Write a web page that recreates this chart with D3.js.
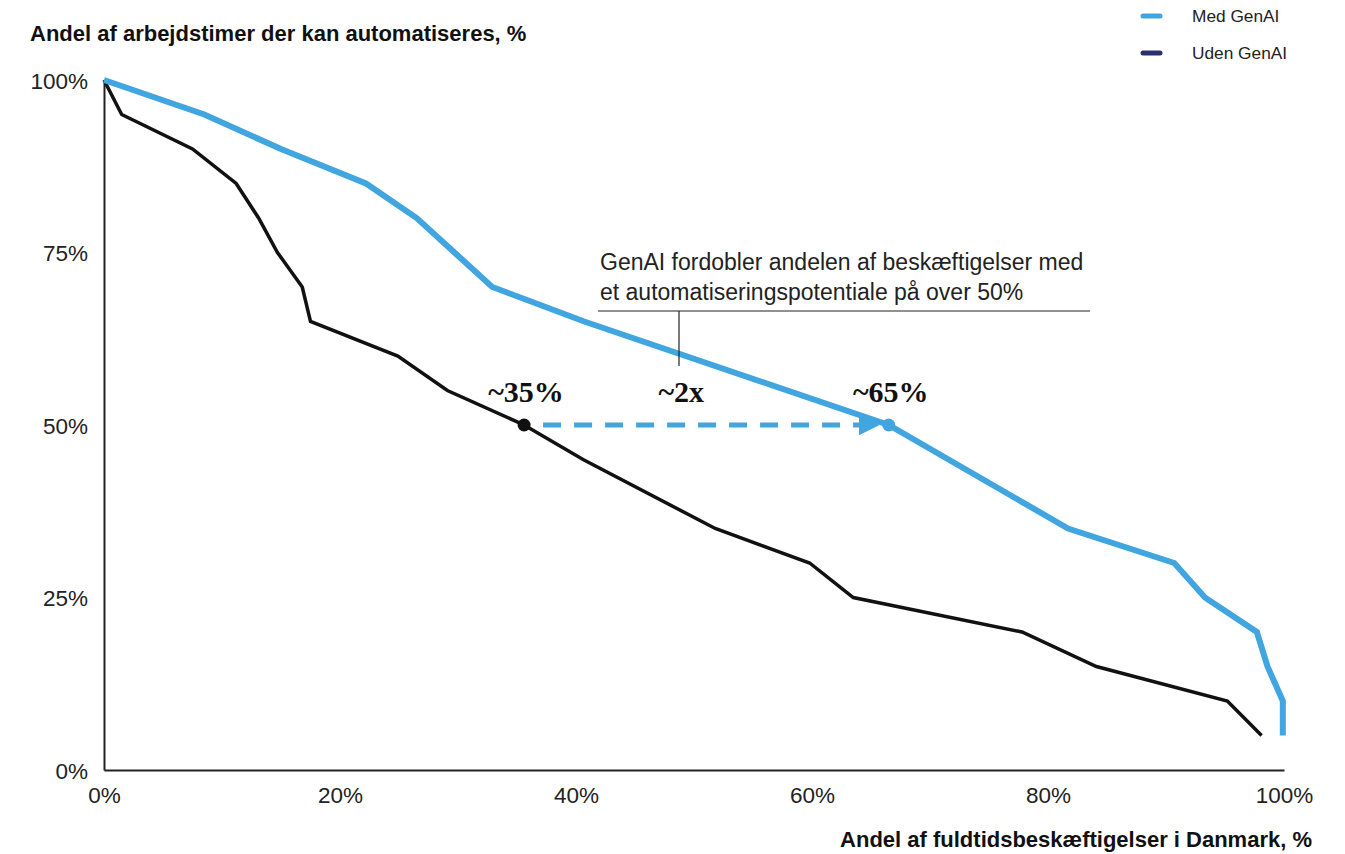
<!DOCTYPE html>
<html lang="da">
<head>
<meta charset="utf-8">
<script src="https://cdn.jsdelivr.net/npm/d3@7"></script>
<style>
  html, body { margin: 0; padding: 0; background: #fff; }
  svg { display: block; }
  .tick text { font-family: "Liberation Sans", Arial, sans-serif; font-size: 22.5px; fill: #222; }
</style>
</head>
<body>
<svg id="chart" width="1345" height="854"></svg>
<script>
// Share of full-time jobs (x, %) against share of work hours that can be automated (y, %)
const medGenAI = [
  [0, 100], [8.5, 95], [15, 90], [22.2, 85], [26.5, 80], [29.7, 75], [32.9, 70],
  [40.7, 65], [66.5, 50], [81.7, 35], [90.7, 30], [93.3, 25], [97.7, 20],
  [98.6, 15], [99.9, 10], [99.9, 5]
];
const udenGenAI = [
  [0, 100], [1.5, 95], [7.5, 90], [11.2, 85], [13.1, 80], [14.7, 75], [16.8, 70],
  [17.5, 65], [24.9, 60], [29.1, 55], [35.6, 50], [40.6, 45], [51.8, 35],
  [59.8, 30], [63.5, 25], [77.8, 20], [84.1, 15], [95.2, 10], [98.1, 5]
];
const xTicks = [0, 20, 40, 60, 80, 100];
const yTicks = [0, 25, 50, 75, 100];
const seriesNames = ["Med GenAI", "Uden GenAI"];
const highlight = { level: 50, from: 35.6, to: 66.5, labels: ["~35%", "~2x", "~65%"] };
const noteLines = ["GenAI fordobler andelen af beskæftigelser med", "et automatiseringspotentiale på over 50%"];

const BLUE = "#41a5df", BLACK = "#111111", NAVY = "#2c2e6f", AXIS = "#222";
const SANS = '"Liberation Sans", Arial, sans-serif';
const SERIF = '"Liberation Serif", "Times New Roman", serif';

const svg = d3.select("#chart");
const x = d3.scaleLinear().domain([0, 100]).range([104, 1284]);
const y = d3.scaleLinear().domain([0, 100]).range([770, 80]);
const pct = d => d + "%";

// Axes
const gx = svg.append("g").attr("transform", `translate(0,${y(0)})`)
  .call(d3.axisBottom(x).tickValues(xTicks).tickFormat(pct).tickSize(0).tickPadding(17));
const gy = svg.append("g").attr("transform", `translate(${x(0)},0)`)
  .call(d3.axisLeft(y).tickValues(yTicks).tickFormat(pct).tickSize(0).tickPadding(16));
[gx, gy].forEach(g => {
  g.select(".domain").attr("stroke", AXIS).attr("stroke-width", 2);
  g.selectAll(".tick text").attr("fill", "#222");
});
gy.selectAll(".tick text").attr("dy", "0.36em");

// Axis titles
svg.append("text").attr("x", 30).attr("y", 41)
  .attr("font-family", SANS).attr("font-weight", "bold").attr("font-size", 22).attr("fill", "#111")
  .text("Andel af arbejdstimer der kan automatiseres, %");
svg.append("text").attr("x", 1312).attr("y", 847).attr("text-anchor", "end")
  .attr("font-family", SANS).attr("font-weight", "bold").attr("font-size", 22).attr("fill", "#111")
  .text("Andel af fuldtidsbeskæftigelser i Danmark, %");

// Lines
const line = d3.line().x(d => x(d[0])).y(d => y(d[1]));
svg.append("path").datum(udenGenAI).attr("d", line)
  .attr("fill", "none").attr("stroke", BLACK).attr("stroke-width", 3.5).attr("stroke-linejoin", "miter");
svg.append("path").datum(medGenAI).attr("d", line)
  .attr("fill", "none").attr("stroke", BLUE).attr("stroke-width", 6).attr("stroke-linejoin", "miter");

// Dashed arrow between the two curves at the 50% level
const ay = y(highlight.level);
svg.append("defs").append("marker")
  .attr("id", "arrow").attr("viewBox", "0 0 10 10").attr("refX", 1).attr("refY", 5)
  .attr("markerWidth", 4.2).attr("markerHeight", 4.2).attr("markerUnits", "strokeWidth")
  .attr("orient", "auto")
  .append("path").attr("d", "M0,0 L10,5 L0,10 Z").attr("fill", BLUE);
svg.append("line")
  .attr("x1", x(highlight.from) + 19).attr("x2", x(highlight.to) - 28)
  .attr("y1", ay).attr("y2", ay)
  .attr("stroke", BLUE).attr("stroke-width", 5).attr("stroke-dasharray", "18 13")
  .attr("marker-end", "url(#arrow)");
svg.append("circle").attr("cx", x(highlight.from)).attr("cy", ay).attr("r", 6.5).attr("fill", BLACK);
svg.append("circle").attr("cx", x(highlight.to)).attr("cy", ay).attr("r", 6.5).attr("fill", BLUE);

// Value labels
const mid = (highlight.from + highlight.to) / 2 - 2.3;
[[highlight.from, highlight.labels[0]], [mid, highlight.labels[1]], [highlight.to, highlight.labels[2]]]
  .forEach(([v, t]) => {
    svg.append("text").attr("x", x(v) + 2).attr("y", 402).attr("text-anchor", "middle")
      .attr("font-family", SERIF).attr("font-weight", "bold").attr("font-size", 30).attr("fill", "#111")
      .text(t);
  });

// Callout
const note = svg.append("text").attr("font-family", SANS).attr("font-size", 23).attr("fill", "#222");
noteLines.forEach((t, i) => note.append("tspan").attr("x", 600).attr("y", 270 + i * 30).text(t));
svg.append("line").attr("x1", 598).attr("x2", 1090).attr("y1", 311).attr("y2", 311)
  .attr("stroke", "#222").attr("stroke-width", 1.2);
svg.append("line").attr("x1", 679).attr("x2", 679).attr("y1", 311).attr("y2", 366)
  .attr("stroke", "#222").attr("stroke-width", 1.2);

// Legend
const legend = svg.append("g");
[[seriesNames[0], BLUE], [seriesNames[1], NAVY]].forEach(([name, c], i) => {
  const ly = 16 + i * 37;
  legend.append("line").attr("x1", 1143).attr("x2", 1160).attr("y1", ly).attr("y2", ly)
    .attr("stroke", c).attr("stroke-width", 5).attr("stroke-linecap", "round");
  legend.append("text").attr("x", 1192).attr("y", ly).attr("dy", "0.35em")
    .attr("font-family", SANS).attr("font-size", 17.3).attr("fill", "#222").text(name);
});
</script>
</body>
</html>
